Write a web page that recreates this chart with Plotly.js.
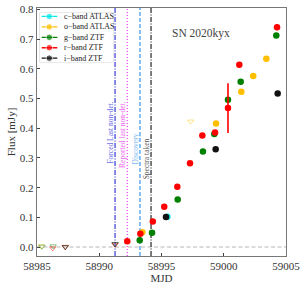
<!DOCTYPE html>
<html><head><meta charset="utf-8">
<script src="https://cdn.plot.ly/plotly-3.0.1.min.js"></script>
<style>html,body{margin:0;padding:0;background:#fff}#chart{width:304px;height:289px}</style>
</head><body><div id="chart"></div><script>
// ---- data ----
const cX = [58995.47];
const cY = [0.102];

const oX = [58993.46, 58999.38, 59001.41, 59002.37, 59003.42];
const oY = [0.050, 0.416, 0.523, 0.576, 0.634];
const oLimX = [58985.35, 58997.35];
const oLimY = [0.003, 0.423];

const gX = [58993.25, 58994.24, 58996.30, 58998.33, 58999.24, 59000.34, 59001.36, 59004.22];
const gY = [0.023, 0.048, 0.160, 0.322, 0.381, 0.496, 0.557, 0.712];
const gLimX = [58985.40, 58986.30, 58987.27, 58991.27];
const gLimY = [0.002, 0.003, 0.001, 0.010];

const rX = [58992.25, 58993.30, 58994.30, 58995.22, 58996.27, 58997.29, 58998.28, 58999.30, 59000.34, 59001.25, 59004.28];
const rY = [0.0195, 0.045, 0.086, 0.136, 0.203, 0.282, 0.376, 0.386, 0.468, 0.614, 0.740];
const rErr = [0.004, 0.004, 0.005, 0.005, 0.006, 0.006, 0.007, 0.008, 0.084, 0.009, 0.010];
const rLimX = [58986.26, 58987.27, 58991.27];
const rLimY = [-0.004, 0.001, 0.008];

const iX = [58995.36, 58999.35, 59004.33];
const iY = [0.101, 0.329, 0.517];
const iLimX = [58987.27, 58991.27];
const iLimY = [0.000, 0.011];

const eventX = [58991.27, 58992.25, 58993.27, 58994.16];
const eventLabels = ['Forced Last non-det.', 'Reported last non-det.', 'Discovery', 'Spectra taken'];
const eventLabelY = [0.387, 0.380, 0.330, 0.297];

const bandLabels = ['c\u2212band ATLAS', 'o\u2212band ATLAS', 'g\u2212band ZTF', 'r\u2212band ZTF', 'i\u2212band ZTF'];
const xTicks = [58985, 58990, 58995, 59000, 59005];
const yTicks = [0.0, 0.1, 0.2, 0.3, 0.4, 0.5, 0.6, 0.7, 0.8];
const titleText = 'SN 2020kyx';

// ---- styles ----
const SERIF = 'Liberation Serif, Times New Roman, serif';
const bandColors = ['#00e5e5', '#ffbf00', '#008000', '#ff0000', '#111111'];
const eventLine = [
  {color: 'rgba(40,40,210,0.85)', dash: '5px,1.5px,1px,1.5px', width: 1.3},
  {color: 'rgba(240,40,240,0.85)', dash: '1px,2px', width: 1.3},
  {color: 'rgba(80,160,240,0.9)', dash: '4px,2px', width: 1.5},
  {color: 'rgba(20,20,20,0.85)', dash: '5px,1.5px,1px,1.5px', width: 1.3}
];
const eventText = ['#6a6ae6', '#ee66ee', '#77b4f0', '#555555'];

const MS = 6.5;
function pts(x, y, col, extra) {
  return Object.assign({type: 'scatter', mode: 'markers', x: x, y: y, showlegend: false,
    marker: {color: col, size: MS, line: {width: 0}}, hoverinfo: 'skip'}, extra || {});
}
function lims(x, y, col) {
  return {type: 'scatter', mode: 'markers', x: x, y: y, showlegend: false, hoverinfo: 'skip',
    marker: {symbol: 'triangle-down-open', color: col, size: 5.5, opacity: 0.45, line: {width: 1, color: col}}};
}

const traces = [
  lims(oLimX, oLimY, bandColors[1]),
  lims(gLimX, gLimY, bandColors[2]),
  lims(rLimX, rLimY, bandColors[3]),
  lims(iLimX, iLimY, bandColors[4]),
  pts(cX, cY, bandColors[0]),
  pts(oX, oY, bandColors[1]),
  pts(gX, gY, bandColors[2]),
  pts(rX, rY, bandColors[3], {error_y: {type: 'data', array: rErr, visible: true, color: bandColors[3], thickness: 1.6, width: 0}}),
  pts(iX, iY, bandColors[4])
];

// manual compact legend on a hidden helper axis pair (units: px inside the box)
const legRowY = [4.0, 14.4, 24.8, 35.2, 45.6];
bandLabels.forEach((lab, k) => {
  traces.push({type: 'scatter', mode: 'lines+markers', xaxis: 'x2', yaxis: 'y2',
    x: [1.7, 9.3, 17.3], y: [legRowY[k], legRowY[k], legRowY[k]], showlegend: false, hoverinfo: 'skip',
    line: {color: bandColors[k], width: 1.3}, marker: {color: bandColors[k], size: [0, MS, 0]}});
});

const shapes = [
  {type: 'line', xref: 'paper', yref: 'y', x0: 0, x1: 1, y0: 0, y1: 0, layer: 'below',
   line: {color: '#cfcfcf', width: 1.5, dash: '4px,2.5px'}}
];
eventX.forEach((x, k) => {
  shapes.push({type: 'line', xref: 'x', yref: 'paper', x0: x, x1: x, y0: 0, y1: 1, layer: 'below',
    line: eventLine[k]});
});
shapes.push({type: 'rect', xref: 'x2 domain', yref: 'y2 domain', x0: 0, x1: 1, y0: 0, y1: 1, layer: 'below',
  fillcolor: 'rgba(255,255,255,0.9)', line: {color: '#d0d0d0', width: 1}});

const annotations = [];
eventX.forEach((x, k) => {
  annotations.push({xref: 'x', yref: 'y', x: x, y: eventLabelY[k], text: eventLabels[k], textangle: -90,
    showarrow: false, xanchor: 'center', yanchor: 'middle', xshift: -4.6,
    font: {family: SERIF, size: 7.5, color: eventText[k]}});
});
bandLabels.forEach((lab, k) => {
  annotations.push({xref: 'x2', yref: 'y2', x: 22, y: legRowY[k], text: lab, showarrow: false,
    xanchor: 'left', yanchor: 'middle', font: {family: SERIF, size: 8, color: '#222'}});
});
annotations.push({xref: 'paper', yref: 'paper', x: 0.659, y: 0.896, text: titleText, showarrow: false,
  xanchor: 'center', yanchor: 'middle', font: {family: SERIF, size: 11.5, color: '#444'}});

const layout = {
  width: 304, height: 289,
  margin: {l: 37, r: 18, t: 8, b: 33, pad: 0},
  paper_bgcolor: '#ffffff', plot_bgcolor: '#ffffff',
  showlegend: false,
  font: {family: SERIF, color: '#333'},
  xaxis: {range: [58985, 59005], tickvals: xTicks, ticktext: xTicks.map(String),
    ticks: 'inside', ticklen: 3, tickcolor: '#444', tickwidth: 1,
    showline: true, mirror: true, linecolor: '#777', linewidth: 1.2,
    showgrid: false, zeroline: false, tickfont: {family: SERIF, size: 11, color: '#333'},
    title: {text: 'MJD', font: {family: SERIF, size: 11, color: '#333'}, standoff: 2}},
  yaxis: {range: [-0.03, 0.805], tickvals: yTicks, ticktext: yTicks.map(v => v.toFixed(1)),
    ticks: 'inside', ticklen: 3, tickcolor: '#444', tickwidth: 1,
    showline: true, mirror: true, linecolor: '#777', linewidth: 1.2,
    showgrid: false, zeroline: false, tickfont: {family: SERIF, size: 11, color: '#333'},
    title: {text: 'Flux [mJy]', font: {family: SERIF, size: 11, color: '#333'}, standoff: 2}},
  xaxis2: {domain: [0.012, 0.305], range: [0, 73], anchor: 'y2', visible: false, fixedrange: true},
  yaxis2: {domain: [0.780, 0.982], range: [50, 0], anchor: 'x2', visible: false, fixedrange: true},
  shapes: shapes,
  annotations: annotations
};

Plotly.newPlot('chart', traces, layout, {displayModeBar: false, staticPlot: true});
</script></body></html>
